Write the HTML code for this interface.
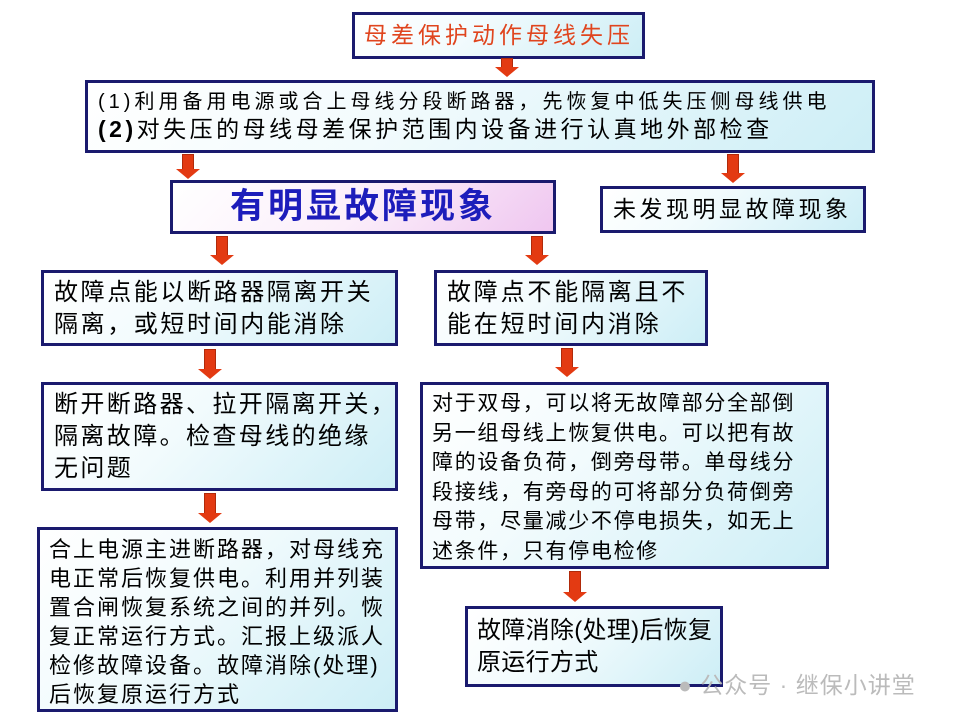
<!DOCTYPE html>
<html><head><meta charset="utf-8"><style>
body{margin:0;width:960px;height:720px;background:#fff;position:relative;overflow:hidden;font-family:"Liberation Sans","Noto Sans CJK SC",sans-serif;}
.b{position:absolute;box-sizing:border-box;border:3px solid #1a1a6e;background:linear-gradient(135deg,#ffffff 0%,#f2fbfd 40%,#cdeef6 100%);color:#000;white-space:nowrap;}
.a{position:absolute;width:24px;}
.a .s{position:absolute;left:6px;top:0;width:12px;background:#e33a12;border:1px solid #b02a0a;box-sizing:border-box;}
.a .h{position:absolute;left:0;width:0;height:0;border-left:12px solid transparent;border-right:12px solid transparent;border-top:10px solid #e33a12;}
</style></head><body>
<div class="b" style="left:352px;top:12px;width:293px;height:47px;color:#e0451e;font-size:23px;letter-spacing:4px;line-height:41px;padding-left:9px;">母差保护动作母线失压</div>

<div class="b" style="left:85px;top:80px;width:790px;height:73px;padding-left:10px;">
<div style="font-size:20px;letter-spacing:4px;line-height:24px;margin-top:7px;">(1)利用备用电源或合上母线分段断路器，先恢复中低失压侧母线供电</div>
<div style="font-size:23px;letter-spacing:3.5px;line-height:30px;font-weight:bold;">(2)<span style="font-weight:normal">对失压的母线母差保护范围内设备进行认真地外部检查</span></div></div>

<div class="b" style="left:170px;top:180px;width:386px;height:54px;background:linear-gradient(135deg,#fff 0%,#fbeefa 50%,#efc6f0 100%);color:#1d1dbb;font-size:35px;letter-spacing:3px;font-weight:bold;line-height:48px;text-align:center;">有明显故障现象</div>
<div class="b" style="left:600px;top:186px;width:266px;height:47px;font-size:23px;letter-spacing:3.5px;line-height:41px;padding-left:10px;">未发现明显故障现象</div>

<div class="b" style="left:41px;top:270px;width:357px;height:76px;font-size:24px;letter-spacing:2.6px;line-height:32px;padding:4px 0 0 10px;">故障点能以断路器隔离开关<br>隔离，或短时间内能消除</div>
<div class="b" style="left:434px;top:270px;width:274px;height:76px;font-size:24px;letter-spacing:2.8px;line-height:32px;padding:4px 0 0 10px;">故障点不能隔离且不<br>能在短时间内消除</div>

<div class="b" style="left:41px;top:382px;width:357px;height:109px;font-size:24px;letter-spacing:2.4px;line-height:32px;padding:4px 0 0 10px;">断开断路器、拉开隔离开关，<br>隔离故障。检查母线的绝缘<br>无问题</div>
<div class="b" style="left:420px;top:382px;width:409px;height:187px;font-size:21px;letter-spacing:1.7px;line-height:29.5px;padding:4px 0 0 9px;">对于双母，可以将无故障部分全部倒<br>另一组母线上恢复供电。可以把有故<br>障的设备负荷，倒旁母带。单母线分<br>段接线，有旁母的可将部分负荷倒旁<br>母带，尽量减少不停电损失，如无上<br>述条件，只有停电检修</div>

<div class="b" style="left:37px;top:527px;width:361px;height:185px;font-size:22px;letter-spacing:2px;line-height:29px;padding:5px 0 0 9px;">合上电源主进断路器，对母线充<br>电正常后恢复供电。利用并列装<br>置合闸恢复系统之间的并列。恢<br>复正常运行方式。汇报上级派人<br>检修故障设备。故障消除(处理)<br>后恢复原运行方式</div>
<div class="b" style="left:465px;top:606px;width:258px;height:81px;font-size:24px;letter-spacing:0.3px;line-height:32px;padding:6px 0 0 9px;">故障消除(处理)后恢复<br>原运行方式</div>

<div style="position:absolute;left:678px;top:666px;font-size:23px;color:#bbb;letter-spacing:1px;">● 公众号 · 继保小讲堂</div>

<div class="a" style="left:495px;top:58px;"><div class="s" style="height:10px"></div><div class="h" style="top:9px"></div></div>
<div class="a" style="left:176px;top:154px;"><div class="s" style="height:16px"></div><div class="h" style="top:15px"></div></div>
<div class="a" style="left:721px;top:154px;"><div class="s" style="height:20px"></div><div class="h" style="top:19px"></div></div>
<div class="a" style="left:210px;top:236px;"><div class="s" style="height:20px"></div><div class="h" style="top:19px"></div></div>
<div class="a" style="left:525px;top:236px;"><div class="s" style="height:20px"></div><div class="h" style="top:19px"></div></div>
<div class="a" style="left:198px;top:349px;"><div class="s" style="height:21px"></div><div class="h" style="top:20px"></div></div>
<div class="a" style="left:555px;top:348px;"><div class="s" style="height:20px"></div><div class="h" style="top:19px"></div></div>
<div class="a" style="left:198px;top:493px;"><div class="s" style="height:21px"></div><div class="h" style="top:20px"></div></div>
<div class="a" style="left:563px;top:571px;"><div class="s" style="height:22px"></div><div class="h" style="top:21px"></div></div>
</body></html>
